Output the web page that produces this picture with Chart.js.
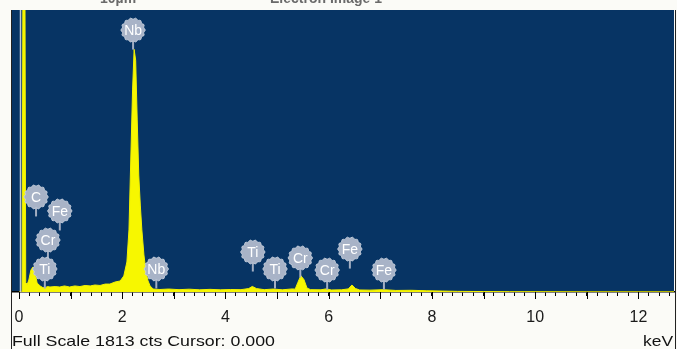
<!DOCTYPE html>
<html>
<head>
<meta charset="utf-8">
<script src="https://cdn.jsdelivr.net/npm/chart.js@4.4.1/dist/chart.umd.min.js"></script>
<style>
  html, body { margin: 0; padding: 0; background: #fbfbf7; }
  #wrap { position: relative; width: 677px; height: 349px; }
</style>
</head>
<body>
<div id="wrap"><canvas id="c" width="677" height="349"></canvas></div>
<script>
// EDS spectrum: energy (keV) and counts per channel
const energyKeV = [
  0.00, 0.06, 0.08, 0.11, 0.13, 0.16, 0.19, 0.23, 0.27, 0.31, 0.35, 0.41, 0.45, 0.50,
  0.55, 0.60, 0.70, 0.79, 0.88, 0.98, 1.08, 1.18, 1.28, 1.38, 1.47, 1.57, 1.67,
  1.76, 1.86, 1.96, 2.03, 2.09, 2.13, 2.17, 2.20, 2.23, 2.26, 2.29, 2.32, 2.35,
  2.38, 2.42, 2.46, 2.50, 2.54, 2.60, 2.73, 2.90, 3.10, 3.30, 3.50, 3.70, 3.90,
  4.10, 4.30, 4.45, 4.52, 4.60, 4.75, 4.93, 5.10, 5.30, 5.35, 5.40, 5.46, 5.52,
  5.58, 5.65, 5.85, 5.95, 6.05, 6.25, 6.38, 6.45, 6.52, 6.60, 6.80, 7.06, 7.30,
  7.60, 7.90, 8.20, 8.50, 9.00, 9.50, 10.0, 11.0, 12.0, 12.7
];
const counts = [
  0, 0, 2600, 2600, 60, 50, 77, 141, 161, 129, 58, 39, 30, 26,
  35, 32, 35, 32, 39, 32, 39, 35, 42, 39, 45, 42, 51,
  51, 64, 71, 103, 193, 399, 913, 1299, 1560, 1490, 1106, 752, 559,
  399, 238, 129, 71, 39, 19, 16, 19, 15, 18, 14, 17, 14,
  16, 15, 22, 36, 22, 15, 19, 14, 20, 18, 60, 105, 80,
  25, 15, 14, 20, 13, 14, 20, 45, 22, 13, 12, 15, 10,
  11, 8, 6, 4, 3, 2, 2, 1, 1, 1
];

// Peak identification markers
const peakElements   = ['Nb', 'C', 'Fe', 'Cr', 'Ti', 'Nb', 'Ti', 'Ti', 'Cr', 'Cr', 'Fe', 'Fe'];
const peakEnergyKeV  = [2.21, 0.33, 0.79, 0.56, 0.50, 2.66, 4.53, 4.96, 5.45, 5.97, 6.41, 7.07];
const markerLevelCts = [1684, 611, 521, 334, 148, 148, 257, 148, 219, 141, 276, 141];

// Axis settings
const axisLabels = ['0', '2', '4', '6', '8', '10', '12'];
const tickStepKeV = 0.2;
const fullScaleCts = 1813;
const cursorKeV = 0.0;
const statusText = 'Full Scale ' + fullScaleCts + ' cts Cursor: ' + cursorKeV.toFixed(3);

const BLUE = 'rgb(7,52,100)';
const FONT = '"Liberation Sans", Arial, sans-serif';

const spectrumPoints = energyKeV.map((e, i) => ({ x: e, y: counts[i] }));

// draw text stretched horizontally to a given width
function stretchedText(ctx, text, x, y, width, align) {
  const w = ctx.measureText(text).width;
  const sx = width / w;
  ctx.save();
  ctx.textAlign = 'left';
  const left = align === 'right' ? x - width : x;
  ctx.translate(left, y);
  ctx.scale(sx, 1);
  ctx.fillText(text, 0, 0);
  ctx.restore();
}

const frame = {
  id: 'frame',
  beforeDraw(chart) {
    const { ctx, chartArea: a } = chart;
    ctx.save();
    ctx.fillStyle = '#fbfbf7';
    ctx.fillRect(0, 0, chart.width, chart.height);
    ctx.fillStyle = BLUE;
    ctx.fillRect(a.left, a.top, a.right - a.left, a.bottom - a.top);
    // header strip text (image caption row)
    ctx.fillStyle = '#6a6a6a';
    ctx.font = 'bold 14px ' + FONT;
    ctx.textBaseline = 'alphabetic';
    ctx.fillText('10µm', 100, 3);
    ctx.fillText('Electron Image 1', 270, 3);
    ctx.restore();
  },
  afterDatasetsDraw(chart) {
    const { ctx, chartArea: a } = chart;
    const xs = chart.scales.x, ys = chart.scales.y;
    ctx.save();
    // cursor line
    const cx0 = Math.round(xs.getPixelForValue(cursorKeV)) + 1.5;
    ctx.strokeStyle = 'rgba(225,228,232,0.85)';
    ctx.lineWidth = 1.5;
    ctx.beginPath();
    ctx.moveTo(cx0, a.top);
    ctx.lineTo(cx0, a.bottom);
    ctx.stroke();

    // peak markers
    const r = 11.5;
    peakElements.forEach((el, i) => {
      const cx = xs.getPixelForValue(peakEnergyKeV[i]);
      const cy = ys.getPixelForValue(markerLevelCts[i]);
      ctx.strokeStyle = '#a3aec2';
      ctx.lineWidth = 2;
      ctx.beginPath();
      ctx.moveTo(cx, cy + r - 1);
      ctx.lineTo(cx, cy + r + 8);
      ctx.stroke();
      ctx.beginPath();
      const n = 64;
      for (let k = 0; k <= n; k++) {
        const t = (k / n) * Math.PI * 2;
        const rr = r + 0.7 * Math.cos(t * 14);
        const px = cx + rr * Math.cos(t), py = cy + rr * Math.sin(t);
        if (k === 0) ctx.moveTo(px, py); else ctx.lineTo(px, py);
      }
      ctx.closePath();
      ctx.fillStyle = '#a8b3c7';
      ctx.fill();
      ctx.strokeStyle = 'rgba(200,208,222,0.9)';
      ctx.lineWidth = 1;
      ctx.stroke();
      ctx.fillStyle = '#ffffff';
      ctx.font = '14px ' + FONT;
      ctx.textAlign = 'center';
      ctx.textBaseline = 'middle';
      ctx.fillText(el, cx, cy + 1);
    });
    ctx.restore();
  },
  afterDraw(chart) {
    const { ctx, chartArea: a } = chart;
    const xs = chart.scales.x;
    ctx.save();
    // longer ticks at whole keV
    ctx.strokeStyle = '#000';
    ctx.lineWidth = 1;
    for (let v = 0; v <= 12; v++) {
      const px = Math.round(xs.getPixelForValue(v)) + 0.5;
      ctx.beginPath();
      ctx.moveTo(px, a.bottom);
      ctx.lineTo(px, a.bottom + 7);
      ctx.stroke();
    }
    // side frame lines
    ctx.strokeStyle = '#222';
    ctx.beginPath();
    ctx.moveTo(a.left - 0.5, a.top);
    ctx.lineTo(a.left - 0.5, chart.height);
    ctx.moveTo(a.right + 1.5, a.top);
    ctx.lineTo(a.right + 1.5, chart.height);
    ctx.stroke();
    // status line and unit
    ctx.fillStyle = '#111';
    ctx.font = '15px ' + FONT;
    ctx.textBaseline = 'alphabetic';
    stretchedText(ctx, statusText, a.left, 346, 263, 'left');
    stretchedText(ctx, 'keV', a.right - 1, 346, 30, 'right');
    ctx.restore();
  }
};

new Chart(document.getElementById('c'), {
  type: 'line',
  data: {
    datasets: [{
      data: spectrumPoints,
      borderColor: '#f2f200',
      backgroundColor: '#f7f700',
      borderWidth: 1,
      fill: 'origin',
      pointRadius: 0,
      tension: 0,
      clip: 0
    }]
  },
  options: {
    responsive: false,
    animation: false,
    devicePixelRatio: 1,
    layout: { padding: { left: 12, right: 3, top: 10, bottom: 0 } },
    plugins: { legend: { display: false }, tooltip: { enabled: false } },
    scales: {
      x: {
        type: 'linear',
        min: -0.136,
        max: 12.69,
        afterBuildTicks(scale) {
          const t = [];
          for (let i = 0; i * tickStepKeV <= 12.6 + 1e-9; i++) {
            t.push({ value: Math.round(i * tickStepKeV * 10) / 10 });
          }
          scale.ticks = t;
        },
        afterFit(scale) {
          scale.height = 57;
          scale.paddingLeft = 0;
          scale.paddingRight = 0;
        },
        grid: {
          display: true,
          drawOnChartArea: false,
          drawTicks: true,
          tickLength: 4,
          tickColor: '#000',
          tickWidth: 1
        },
        border: { display: true, color: '#000', width: 1.5 },
        ticks: {
          autoSkip: false,
          maxRotation: 0,
          padding: 12,
          color: '#1a1a1a',
          font: { family: FONT, size: 16 },
          callback(value) {
            const v = Math.round(value * 10) / 10;
            if (Number.isInteger(v) && v % 2 === 0) return axisLabels[v / 2] ?? '';
            return '';
          }
        }
      },
      y: { display: false, min: 0, max: fullScaleCts }
    }
  },
  plugins: [frame]
});
</script>
</body>
</html>
